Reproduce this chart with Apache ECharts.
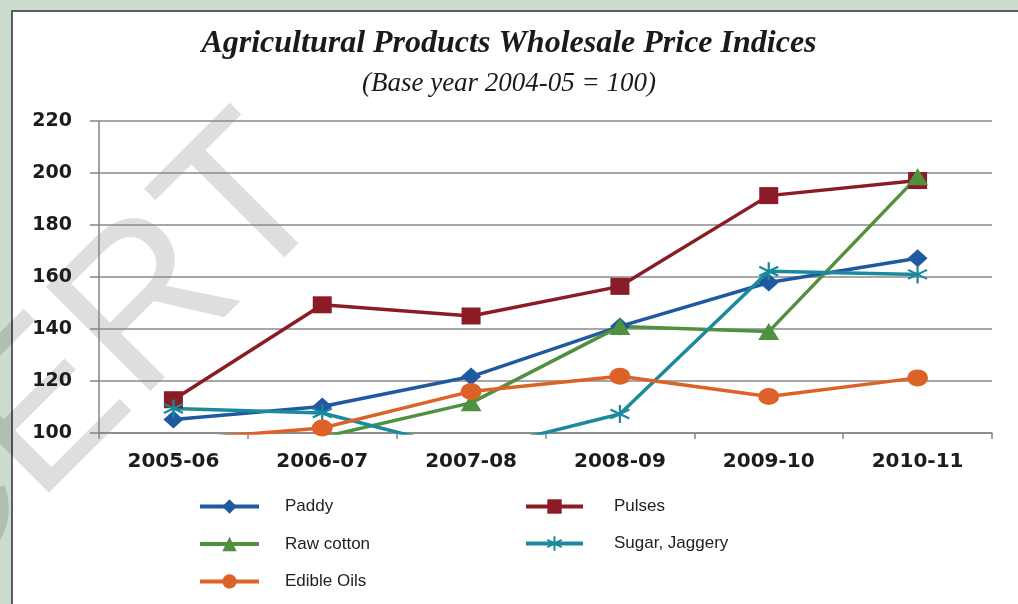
<!DOCTYPE html>
<html>
<head>
<meta charset="utf-8">
<title>Agricultural Products Wholesale Price Indices</title>
<script src="https://cdn.jsdelivr.net/npm/echarts@6/dist/echarts.min.js"></script>
<style>
  html, body { margin: 0; padding: 0; background: #c9dccd; }
  #chart { width: 1018px; height: 604px; }
</style>
</head>
<body>
<div id="chart"></div>
<script>
// Wholesale price indices of agricultural products (base year 2004-05 = 100)
var years = ['2005-06', '2006-07', '2007-08', '2008-09', '2009-10', '2010-11'];
var paddy = [105.2, 110.2, 121.7, 141.0, 157.9, 167.2];
var pulses = [112.8, 149.3, 145.0, 156.4, 191.3, 197.1];
var rawCotton = [92.0, 98.4, 111.6, 141.0, 139.0, 198.6];
var sugarJaggery = [109.4, 107.7, 93.0, 107.3, 162.2, 161.0];
var edibleOils = [97.3, 101.9, 116.0, 121.8, 114.0, 121.2];
var yTicks = { min: 100, max: 220, step: 20 };

// asterisk marker: one vertical stroke and two diagonals
var starPath = 'path://M10,0L10,20M1.34,5L18.66,15M1.34,15L18.66,5';

function lineSeries(name, data, color, symbol, size, extraItem) {
  return {
    name: name,
    type: 'line',
    data: data,
    symbol: symbol,
    symbolSize: size,
    clip: true,
    lineStyle: { color: color, width: 3.5 },
    itemStyle: Object.assign({ color: color, borderWidth: 0 }, extraItem || {}),
    emphasis: { disabled: true }
  };
}

var legendText = {
  fontFamily: '"Liberation Sans", Arial, sans-serif',
  fontSize: 17,
  color: '#222222'
};

var chart = echarts.init(document.getElementById('chart'), null, { renderer: 'canvas' });

chart.setOption({
  animation: false,
  backgroundColor: '#c9dccd',
  title: [
    {
      text: 'Agricultural Products Wholesale Price Indices',
      left: 'center',
      top: 23,
      textStyle: {
        fontFamily: '"Liberation Serif", "DejaVu Serif", serif',
        fontStyle: 'italic',
        fontWeight: 'bold',
        fontSize: 32,
        color: '#1a1a1a'
      }
    },
    {
      text: '(Base year 2004-05 = 100)',
      left: 'center',
      top: 65,
      textStyle: {
        fontFamily: '"Liberation Serif", "DejaVu Serif", serif',
        fontStyle: 'italic',
        fontWeight: 'normal',
        fontSize: 27,
        color: '#1a1a1a'
      }
    }
  ],
  graphic: [
    {
      type: 'rect',
      z: -10,
      shape: { x: 12, y: 11, width: 1030, height: 620 },
      style: { fill: '#ffffff', stroke: '#5e5e5e', lineWidth: 2 }
    },
    {
      type: 'text',
      z: -5,
      x: 296,
      y: 162,
      rotation: Math.PI / 4,
      style: {
        text: 'NCERT',
        font: '215px "Liberation Sans", Arial, sans-serif',
        fill: 'rgba(0,0,0,0.13)',
        align: 'right',
        verticalAlign: 'middle'
      }
    }
  ],
  grid: { left: 99, right: 26, top: 121, bottom: 171, containLabel: false },
  legend: [
    {
      data: ['Paddy', 'Raw cotton', 'Edible Oils'],
      orient: 'vertical',
      left: 198,
      top: 498,
      padding: 0,
      itemWidth: 59,
      itemHeight: 18,
      itemGap: 20.5,
      selectedMode: false,
      lineStyle: { width: 4 },
      textStyle: Object.assign({ padding: [0, 0, 0, 21] }, legendText)
    },
    {
      data: ['Pulses', 'Sugar, Jaggery'],
      orient: 'vertical',
      left: 524,
      top: 498,
      padding: 0,
      itemWidth: 57,
      itemHeight: 18,
      itemGap: 20,
      selectedMode: false,
      lineStyle: { width: 4 },
      textStyle: Object.assign({ padding: [0, 0, 0, 26] }, legendText)
    }
  ],
  xAxis: {
    type: 'category',
    data: years,
    boundaryGap: true,
    axisLine: { show: true, lineStyle: { color: '#858585', width: 1.5 } },
    axisTick: { show: true, length: 6, inside: false, alignWithLabel: false, lineStyle: { color: '#858585', width: 1.5 } },
    axisLabel: {
      margin: 19,
      fontFamily: '"DejaVu Sans", Verdana, sans-serif',
      fontWeight: 'bold',
      fontSize: 20,
      color: '#1c1c1c'
    },
    splitLine: { show: false }
  },
  yAxis: {
    type: 'value',
    min: yTicks.min,
    max: yTicks.max,
    interval: yTicks.step,
    axisLine: { show: true, lineStyle: { color: '#858585', width: 1.5 } },
    axisTick: { show: true, length: 9, inside: false, lineStyle: { color: '#858585', width: 1.5 } },
    axisLabel: {
      margin: 27,
      fontFamily: '"DejaVu Sans", Verdana, sans-serif',
      fontWeight: 'bold',
      fontSize: 19,
      color: '#1c1c1c'
    },
    splitLine: { show: true, lineStyle: { color: '#8a8a8a', width: 1.5 } }
  },
  series: [
    lineSeries('Paddy', paddy, '#1f5aa0', 'diamond', [20, 18]),
    lineSeries('Pulses', pulses, '#8b1b24', 'rect', [19, 17]),
    lineSeries('Raw cotton', rawCotton, '#4f913f', 'triangle', [21, 17]),
    lineSeries('Sugar, Jaggery', sugarJaggery, '#1a8a9c', starPath, [19, 18], { borderColor: '#1a8a9c', borderWidth: 2.2 }),
    lineSeries('Edible Oils', edibleOils, '#dc6228', 'circle', [21, 17])
  ]
});
</script>
</body>
</html>
